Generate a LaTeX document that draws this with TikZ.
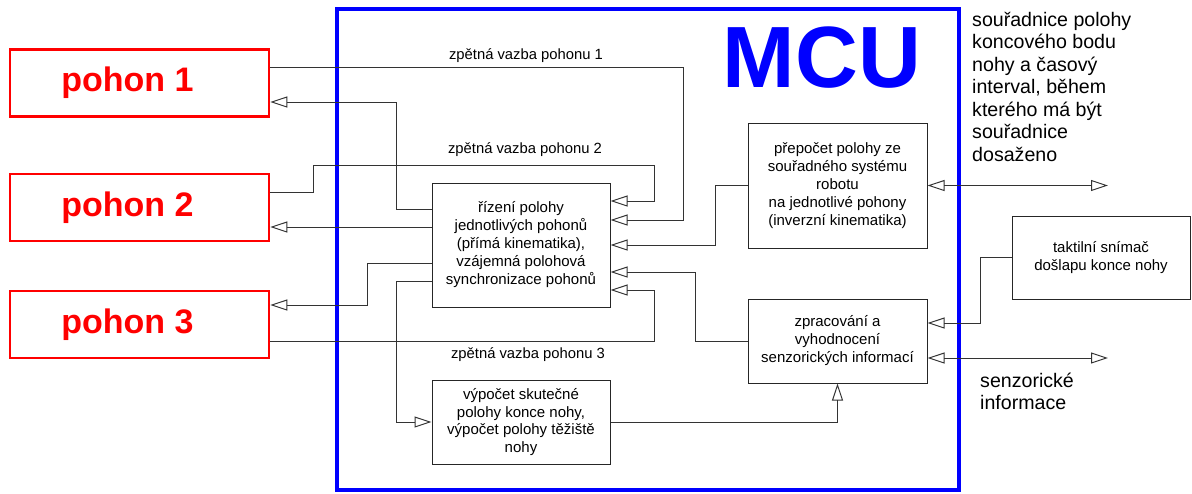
\documentclass[tikz,border=0pt]{standalone}
\usepackage{fontspec}
\setmainfont{Liberation Sans}
\usetikzlibrary{arrows.meta}
\begin{document}
\begin{tikzpicture}[x=1pt,y=-1pt,
  box/.style={draw=black!85, line width=1pt, align=center, inner sep=0pt, font=\fontsize{15}{18}\selectfont},
  pbox/.style={draw=red, line width=2.5pt, minimum width=259pt, minimum height=67pt, inner sep=0pt, text=red, font=\fontsize{34}{36}\selectfont\bfseries},
  ln/.style={draw=black!80, line width=1pt},
  tip/.style={-{Triangle[open,length=17pt,width=11pt]}},
  dtip/.style={{Triangle[open,length=17pt,width=11pt]}-{Triangle[open,length=17pt,width=11pt]}},
  lbl/.style={font=\fontsize{14.8}{18}\selectfont, inner sep=0pt},
  bigtxt/.style={align=left, inner sep=0pt, anchor=north west, font=\fontsize{19.6}{22.5}\selectfont}]
\useasboundingbox (0,0) rectangle (1192,493);
\fill[white] (0,0) rectangle (1192,493);

% MCU frame
\node[draw=blue, line width=4pt, minimum width=622pt, minimum height=481pt, inner sep=0pt] (mcu) at (648,249.5) {};
\node[text=blue, font=\fontsize{87}{90}\selectfont\bfseries, inner sep=0pt] (mcut) at (822,58) {MCU};

% drives
\node[pbox] (p1) at (139.5,83) {pohon 1\kern24pt};
\node[pbox] (p2) at (139.5,207.5) {pohon 2\kern24pt};
\node[pbox] (p3) at (139.5,324.5) {pohon 3\kern24pt};

% blocks
\node[box, minimum width=178pt, minimum height=124pt] (riz) at (521,245)
  {řízení polohy\\jednotlivých pohonů\\(přímá kinematika),\\vzájemná polohová\\synchronizace pohonů};
\node[box, minimum width=179pt, minimum height=125pt] (pre) at (837.5,185.5)
  {přepočet polohy ze\\souřadného systému\\robotu\\na jednotlivé pohony\\(inverzní kinematika)};
\node[box, minimum width=179pt, minimum height=84pt] (zpr) at (837.5,341)
  {zpracování a\\vyhodnocení\\senzorických informací};
\node[box, minimum width=178pt, minimum height=84pt, font=\fontsize{15}{17.5}\selectfont] (vyp) at (521,422)
  {výpočet skutečné\\polohy konce nohy,\\výpočet polohy těžiště\\nohy};
\node[box, minimum width=178pt, minimum height=83pt] (tak) at (1101,257.5)
  {taktilní snímač\\došlapu konce nohy};

\coordinate (o1) at (1108,185.5);
\coordinate (o2) at (1108,358);

% connectors
\draw[ln,tip] (p1.east |- 0,67) -| (683,220) -- (riz.east |- 0,220);
\draw[ln,tip] (riz.west |- 0,209) -| (396,102) -- (p1.east |- 0,102);
\draw[ln,tip] (p2.east |- 0,192) -| (313,165) -| (654,201) -- (riz.east |- 0,201);
\draw[ln,tip] (riz.west |- 0,227) -- (p2.east |- 0,227);
\draw[ln,tip] (riz.west |- 0,263) -| (367,305) -- (p3.east |- 0,305);
\draw[ln,tip] (p3.east |- 0,341) -| (654,290) -- (riz.east |- 0,290);
\draw[ln,tip] (riz.west |- 0,281) -| (396,422) -- (vyp.west);
\draw[ln,tip] (vyp.east) -| (zpr.south);
\draw[ln,tip] (pre.west) -| (715,245) -- (riz.east |- 0,245);
\draw[ln,tip] (zpr.west) -| (695,272) -- (riz.east |- 0,272);
\draw[ln,dtip] (pre.east) -- (o1);
\draw[ln,tip] (tak.west) -| (980,323) -- (zpr.east |- 0,323);
\draw[ln,dtip] (zpr.east |- 0,358) -- (o2);

% labels
\node[lbl] (l1) at (526,56) {zpětná vazba pohonu 1};
\node[lbl] (l2) at (525,150) {zpětná vazba pohonu 2};
\node[lbl] (l3) at (528,355) {zpětná vazba pohonu 3};

\node[bigtxt] (rt) at (972,12) {souřadnice polohy\\koncového bodu\\nohy a časový\\interval, během\\kterého má být\\souřadnice\\dosaženo};
\node[bigtxt] (st) at (980,372.5) {senzorické\\informace};
\end{tikzpicture}
\end{document}
